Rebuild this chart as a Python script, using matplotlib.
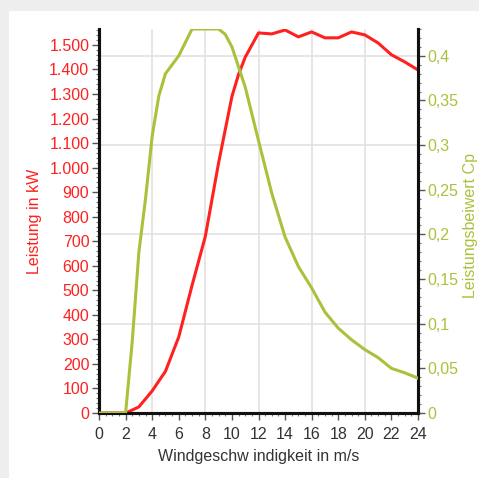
import matplotlib
matplotlib.use("Agg")
import matplotlib.pyplot as plt
from matplotlib.patches import Rectangle
from matplotlib.ticker import MultipleLocator, FuncFormatter
from matplotlib.transforms import blended_transform_factory

plt.rcParams['font.family'] = ['Liberation Sans', 'DejaVu Sans']

# Data
wind_p = [0, 1, 2, 2.5, 3, 4, 5, 6, 7, 8, 9, 10, 10.5, 11, 12, 13, 14, 15, 16, 17, 18, 19, 20, 21, 22, 23, 24]
power = [0, 0, 0, 12, 25, 90, 170, 310, 520, 720, 1020, 1290, 1380, 1450, 1549, 1545, 1561, 1533, 1553, 1529, 1529, 1553, 1541, 1508, 1460, 1431, 1398]

wind_c = [0, 1, 2, 2.5, 3, 3.5, 4, 4.5, 5, 6, 7, 8, 9, 9.5, 10, 11, 12, 13, 14, 15, 16, 17, 18, 19, 20, 21, 22, 23, 24]
cp = [0, 0, 0, 0.08, 0.18, 0.24, 0.31, 0.355, 0.38, 0.40, 0.43, 0.43, 0.43, 0.424, 0.41, 0.365, 0.305, 0.246, 0.197,
      0.164, 0.140, 0.113, 0.095, 0.082, 0.071, 0.062, 0.050, 0.045, 0.039]

grid_x = [4, 8, 12, 16, 20]
grid_cp = [0.1, 0.2, 0.3, 0.4]

RED = '#ff2020'
GREEN = '#a8c23c'
FS = 11.5

W, H = 479, 478
fig = plt.figure(figsize=(W / 100, H / 100), dpi=100, facecolor='#eeeeee')
fig.patches.append(Rectangle((9 / W, 0), 1, 1 - 11 / H, transform=fig.transFigure,
                             facecolor='white', edgecolor='none', zorder=-5))

ax = fig.add_axes([99 / W, 1 - 413 / H, (418 - 99) / W, (413 - 29) / H])
ax2 = ax.twinx()
ax.set_zorder(1)
ax2.set_zorder(2)
ax.patch.set_visible(False)
ax2.patch.set_visible(False)

ax.set_xlim(0, 24)
ax.set_ylim(0, 1565)
ax2.set_ylim(0, 0.43)

# grid (drawn in the lower axes so both curves lie above it)
for gx in grid_x:
    ax.axvline(gx, color='#e2e2e2', lw=1.2, zorder=0)
tr = blended_transform_factory(ax.transAxes, ax2.transData)
for gy in grid_cp:
    ax.plot([0, 1], [gy, gy], transform=tr, color='#e2e2e2', lw=1.2, zorder=0)

ax.plot(wind_p, power, color=RED, lw=2.2, zorder=3)
ax2.plot(wind_c, cp, color=GREEN, lw=2.2, zorder=3)

for a in (ax, ax2):
    a.spines['top'].set_visible(False)
    for s in ['left', 'right', 'bottom']:
        a.spines[s].set_linewidth(2.2)
        a.spines[s].set_color('#111111')

ax.xaxis.set_major_locator(MultipleLocator(2))
ax.xaxis.set_minor_locator(MultipleLocator(0.5))
ax.yaxis.set_major_locator(MultipleLocator(100))
ax.yaxis.set_minor_locator(MultipleLocator(20))
ax.yaxis.set_major_formatter(FuncFormatter(lambda v, p: f"{int(round(v)):,}".replace(',', '.')))
ax2.yaxis.set_major_locator(MultipleLocator(0.05))
ax2.yaxis.set_minor_locator(MultipleLocator(0.01))
ax2.yaxis.set_major_formatter(FuncFormatter(lambda v, p: ('0' if abs(v) < 1e-9 else f"{v:.2f}".rstrip('0').rstrip('.').replace('.', ','))))

ax.tick_params(axis='x', which='major', length=5, width=1, color='#555555', labelsize=FS, labelcolor='#333333', pad=5)
ax.tick_params(axis='x', which='minor', length=2.5, width=0.8, color='#777777')
ax.tick_params(axis='y', which='major', length=5, width=1, color='#555555', labelsize=FS, labelcolor=RED, pad=2)
ax.tick_params(axis='y', which='minor', length=2.5, width=0.8, color='#777777')
ax2.tick_params(axis='y', which='major', length=5, width=1, color='#555555', labelsize=FS, labelcolor=GREEN, pad=2)
ax2.tick_params(axis='y', which='minor', length=2.5, width=0.8, color='#777777')

ax.set_xlabel('Windgeschw indigkeit in m/s', fontsize=FS, color='#333333', labelpad=5)
fig.text(35 / W, 1 - 221 / H, 'Leistung in kW', rotation=90, color=RED, fontsize=FS,
         ha='center', va='center')
fig.text(471 / W, 1 - 225 / H, 'Leistungsbeiwert Cp', rotation=90, color=GREEN, fontsize=FS,
         ha='center', va='center')

fig.savefig('out.png', dpi=100, facecolor=fig.get_facecolor())
